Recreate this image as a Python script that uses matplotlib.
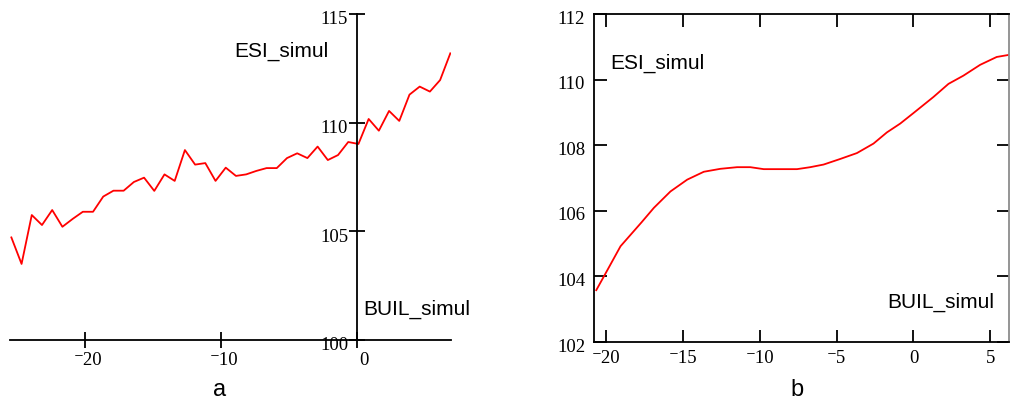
import numpy as np
import matplotlib
matplotlib.use("Agg")
import matplotlib.pyplot as plt
import matplotlib.transforms as mtransforms

# ---------------- data ----------------
# panel a : raw simulated series
x_a = [-25.4, -24.65, -23.9, -23.15, -22.4, -21.65, -20.9, -20.15, -19.4, -18.65,
       -17.9, -17.15, -16.4, -15.65, -14.9, -14.15, -13.4, -12.65, -11.9, -11.15,
       -10.4, -9.65, -8.9, -8.15, -7.4, -6.65, -5.9, -5.15, -4.4, -3.65,
       -2.9, -2.15, -1.4, -0.65, 0.1, 0.85, 1.6, 2.35, 3.1, 3.85,
       4.6, 5.35, 6.1, 6.85]
y_a = [104.72, 103.50, 105.75, 105.29, 105.98, 105.21, 105.57, 105.90, 105.90, 106.60,
       106.87, 106.87, 107.27, 107.47, 106.86, 107.62, 107.32, 108.74, 108.07, 108.14,
       107.32, 107.93, 107.55, 107.62, 107.78, 107.91, 107.91, 108.37, 108.59, 108.37,
       108.90, 108.28, 108.51, 109.11, 109.02, 110.17, 109.63, 110.54, 110.08, 111.29,
       111.66, 111.43, 111.96, 113.19]

# panel b : smoothed series
x_b = [-20.65, -19.94, -19.07, -17.70, -16.90, -15.82, -14.73, -13.65, -12.57, -11.48,
       -10.62, -9.75, -8.67, -7.58, -6.72, -5.85, -4.77, -3.68, -2.60, -1.73,
       -0.86, 0.00, 1.30, 2.28, 3.25, 4.34, 5.42, 6.29]
y_b = [103.58, 104.18, 104.92, 105.65, 106.09, 106.59, 106.95, 107.19, 107.28, 107.33,
       107.33, 107.27, 107.27, 107.27, 107.33, 107.41, 107.58, 107.76, 108.05, 108.39,
       108.66, 108.98, 109.47, 109.87, 110.12, 110.45, 110.69, 110.76]

xticks_a = [-20, -10, 0]
xlabels_a = ["\u207b20", "\u207b10", "0"]
yticks_a = [100, 105, 110, 115]

xticks_b = [-20, -15, -10, -5, 0, 5]
xlabels_b = ["\u207b20", "\u207b15", "\u207b10", "\u207b5", "0", "5"]
yticks_b = [102, 104, 106, 108, 110, 112]

SERIF = ["Liberation Serif", "DejaVu Serif"]
SANS = ["Liberation Sans", "DejaVu Sans"]
TICK_FS = 13.5

fig = plt.figure(figsize=(10.1, 4.0), dpi=100)

# ---------------- panel a : axes crossing at (0, 100) ----------------
ax1 = fig.add_axes([10 / 1010, 60 / 400, 441 / 1010, 326 / 400])
ax1.plot(x_a, y_a, color="#ff0000", lw=1.3)
ax1.set_xlim(-25.5, 6.9)
ax1.set_ylim(100, 115)
ax1.spines["top"].set_visible(False)
ax1.spines["right"].set_visible(False)
ax1.spines["left"].set_position(("data", 0))
ax1.spines["bottom"].set_position(("data", 100))
for s in ("left", "bottom"):
    ax1.spines[s].set_linewidth(1.3)
ax1.set_xticks(xticks_a)
ax1.set_xticklabels(xlabels_a)
ax1.set_yticks(yticks_a)
ax1.tick_params(axis="both", direction="inout", length=11, width=1.3, labelsize=TICK_FS)
ax1.tick_params(axis="y", pad=1)
ax1.tick_params(axis="x", pad=3)
for lab in ax1.get_xticklabels() + ax1.get_yticklabels():
    lab.set_family(SERIF)
for lab in ax1.get_yticklabels():
    lab.set_transform(lab.get_transform() +
                      mtransforms.ScaledTranslation(0, -4 / 100, fig.dpi_scale_trans))
for lab in ax1.get_xticklabels():
    dx = 7 if lab.get_text() == "0" else 3
    lab.set_transform(lab.get_transform() +
                      mtransforms.ScaledTranslation(dx / 100, 0, fig.dpi_scale_trans))
ax1.patch.set_visible(False)

fig.text(234 / 1010, 1 - 56.7 / 400, "ESI_simul", family=SANS, fontsize=15, va="baseline")
fig.text(363 / 1010, 1 - 315 / 400, "BUIL_simul", family=SANS, fontsize=15, va="baseline")
fig.text(220 / 1010, 1 - 396 / 400, "a", family=SANS, fontsize=17, va="baseline", ha="center")

# ---------------- panel b : boxed ----------------
ax2 = fig.add_axes([593.5 / 1010, 58 / 400, 415.5 / 1010, 328 / 400])
ax2.plot(x_b, y_b, color="#ff0000", lw=1.3)
ax2.set_xlim(-20.83, 6.22)
ax2.set_ylim(102, 112)
for s in ax2.spines.values():
    s.set_linewidth(1.3)
ax2.spines["right"].set_color("#8c8c8c")
ax2.set_xticks(xticks_b)
ax2.set_xticklabels(xlabels_b)
ax2.set_yticks(yticks_b)
ax2.tick_params(axis="both", direction="in", length=9, width=1.3, labelsize=TICK_FS,
                top=True, right=True)
ax2.tick_params(axis="y", pad=6)
ax2.tick_params(axis="x", pad=6)
for lab in ax2.get_xticklabels() + ax2.get_yticklabels():
    lab.set_family(SERIF)
for lab in ax2.get_yticklabels():
    lab.set_transform(lab.get_transform() +
                      mtransforms.ScaledTranslation(0, -3 / 100, fig.dpi_scale_trans))

fig.text(610 / 1010, 1 - 68.3 / 400, "ESI_simul", family=SANS, fontsize=15, va="baseline")
fig.text(887 / 1010, 1 - 307.3 / 400, "BUIL_simul", family=SANS, fontsize=15, va="baseline")
fig.text(797 / 1010, 1 - 396 / 400, "b", family=SANS, fontsize=17, va="baseline", ha="center")

fig.savefig("out.png", dpi=100)
